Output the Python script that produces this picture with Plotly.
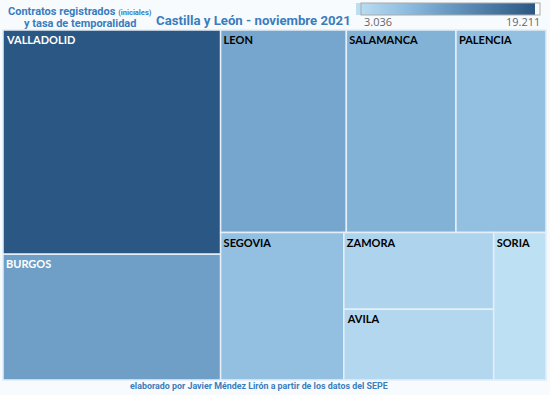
import plotly.graph_objects as go

provincias = ["VALLADOLID", "BURGOS", "LEON", "SALAMANCA", "PALENCIA",
              "SEGOVIA", "ZAMORA", "AVILA", "SORIA"]
contratos = [19211, 10770, 10024, 8741, 7180, 7150, 4526, 4169, 3036]
colores_texto = ["white", "white", "black", "black", "black",
                 "black", "black", "black", "black"]
cmin_val, cmax_val = 3036, 19211
etiqueta_min, etiqueta_max = "3.036", "19.211"

blue = "#3a7dbd"

L, T, W, H = 3, 30, 543, 350


def px(x):
    return (x - L) / W


def py(y):
    return (T + H - y) / H


fig = go.Figure(go.Treemap(
    labels=provincias,
    parents=[""] * len(provincias),
    values=contratos,
    sort=True,
    texttemplate="<b>%{label}</b>",
    textposition="top left",
    textfont=dict(family="Lato", size=11, color=colores_texto),
    marker=dict(
        colors=contratos,
        colorscale=[[0, "#bde0f3"], [0.3, "#8cbade"], [0.5, "#6b9cc4"], [1, "#2a5783"]],
        cmin=cmin_val, cmax=cmax_val,
        line=dict(color="#e6eff7", width=1.5),
        pad=dict(t=0, l=0, r=0, b=0),
        showscale=True,
        colorbar=dict(
            orientation="h",
            xref="container", yref="container",
            x=451.5 / 550, xanchor="center",
            y=1 - 3 / 395, yanchor="top",
            lenmode="pixels", len=179,
            thickness=12,
            outlinewidth=1, outlinecolor="#aaaaaa",
            showticklabels=False, ticks="",
            xpad=0, ypad=0,
        ),
    ),
    tiling=dict(packing="squarify", squarifyratio=1.5, pad=0),
    hoverinfo="label+value",
))

fig.update_layout(
    width=550, height=395,
    margin=dict(l=L, r=550 - L - W, t=T, b=395 - T - H, autoexpand=False),
    paper_bgcolor="#f8fbfe",
    font=dict(family="Roboto"),
    annotations=[
        dict(text="<b>Contratos registrados <span style='font-size:7.5px'>(iniciales)</span></b>",
             xref="paper", yref="paper", x=px(80), y=py(11.5),
             xanchor="center", yanchor="middle", showarrow=False,
             font=dict(family="Roboto", size=11, color=blue)),
        dict(text="<b>y tasa de temporalidad</b>",
             xref="paper", yref="paper", x=px(80), y=py(23.5),
             xanchor="center", yanchor="middle", showarrow=False,
             font=dict(family="Roboto", size=11, color=blue)),
        dict(text="<b>Castilla y León - noviembre 2021</b>",
             xref="paper", yref="paper", x=px(253), y=py(21),
             xanchor="center", yanchor="middle", showarrow=False,
             font=dict(family="Roboto", size=13.2, color=blue)),
        dict(text="<b>elaborado por Javier Méndez Lirón a partir de los datos del SEPE</b>",
             xref="paper", yref="paper", x=px(259), y=py(386),
             xanchor="center", yanchor="middle", showarrow=False,
             font=dict(family="Roboto", size=8.9, color=blue)),
        dict(text=etiqueta_min, xref="paper", yref="paper",
             x=px(362), y=py(22), xanchor="left", yanchor="middle",
             showarrow=False, font=dict(family="Open Sans", size=11, color="#666666")),
        dict(text=etiqueta_max, xref="paper", yref="paper",
             x=px(542), y=py(22), xanchor="right", yanchor="middle",
             showarrow=False, font=dict(family="Open Sans", size=11, color="#666666")),
    ],
)

fig.write_html(
    "out.html",
    config={"displayModeBar": False},
    post_script="document.body.style.margin='0';document.body.style.padding='0';"
                "document.body.style.overflow='hidden';",
)
